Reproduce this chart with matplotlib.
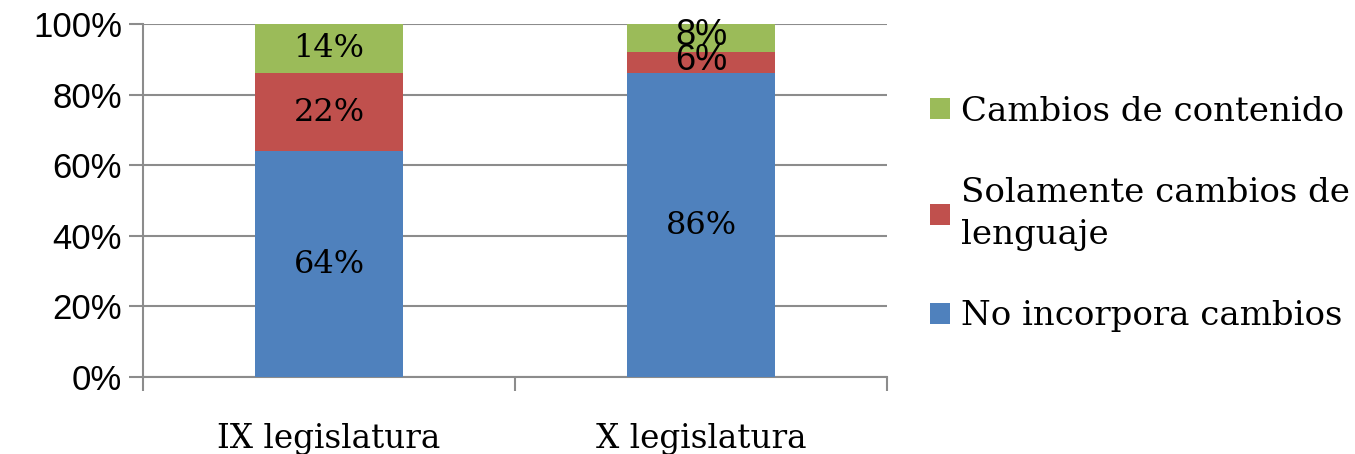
import matplotlib
matplotlib.use("Agg")
import matplotlib.pyplot as plt
import numpy as np

categories = ["IX legislatura", "X legislatura"]
series_names = ["No incorpora cambios", "Solamente cambios de\nlenguaje", "Cambios de contenido"]
no_cambios = [64, 86]
lenguaje = [22, 6]
contenido = [14, 8]
colors = ["#4F81BD", "#C0504D", "#9BBB59"]

SLAB = "DejaVu Serif"
SANS = "Liberation Sans"

fig = plt.figure(figsize=(13.55, 4.54), dpi=100)
ax = fig.add_axes([143/1355, 1 - 377/454, (887 - 143)/1355, (377 - 24)/454])

x = np.arange(len(categories))
width = 0.4
series = [no_cambios, lenguaje, contenido]
bottom = np.zeros(len(categories))
for vals, name, col in zip(series, series_names, colors):
    ax.bar(x, vals, width, bottom=bottom, color=col, label=name, zorder=3)
    for xi, v, bt in zip(x, vals, bottom):
        # small labels in the second bar come out in a sans face in the original
        if v < 10:
            ax.text(xi, bt + v / 2 + 0.8, f"{v}%", ha="center", va="center",
                    fontsize=26, family=SANS, color="black", zorder=4)
        else:
            ax.text(xi, bt + v / 2, f"{v}%", ha="center", va="center",
                    fontsize=23, family=SLAB, color="black", zorder=4)
    bottom = bottom + np.array(vals)

ax.set_xlim(-0.5, 1.5)
ax.set_ylim(0, 100)
ax.set_yticks(np.arange(0, 101, 20))
ax.set_yticklabels([f"{v}%" for v in range(0, 101, 20)], family=SANS, fontsize=25)
ax.yaxis.grid(True, color="#8c8c8c", linewidth=1.5, zorder=0)

ax.set_xticks(x)
ax.set_xticklabels(categories, family=SLAB, fontsize=23.5)
ax.set_xticks([-0.5, 0.5, 1.5], minor=True)
ax.tick_params(axis="x", which="major", length=0, pad=33)
ax.tick_params(axis="x", which="minor", length=10, width=1.5, color="#8c8c8c", direction="out")
ax.tick_params(axis="y", length=10, width=1.5, color="#8c8c8c", direction="out", pad=5)

for s in ["top", "right"]:
    ax.spines[s].set_visible(False)
for s in ["left", "bottom"]:
    ax.spines[s].set_color("#8c8c8c")
    ax.spines[s].set_linewidth(1.5)

handles, labels = ax.get_legend_handles_labels()
leg = fig.legend(handles[::-1], labels[::-1], loc="center left",
                 bbox_to_anchor=(930/1355, 1 - 214/454), frameon=False,
                 prop={"family": SLAB, "size": 24.5}, handlelength=0.6,
                 handleheight=0.6, handletextpad=0.3, labelspacing=1.45,
                 borderpad=0, borderaxespad=0)
for t in leg.get_texts():
    t.set_linespacing(1.4)

fig.savefig("out.png", dpi=100)
